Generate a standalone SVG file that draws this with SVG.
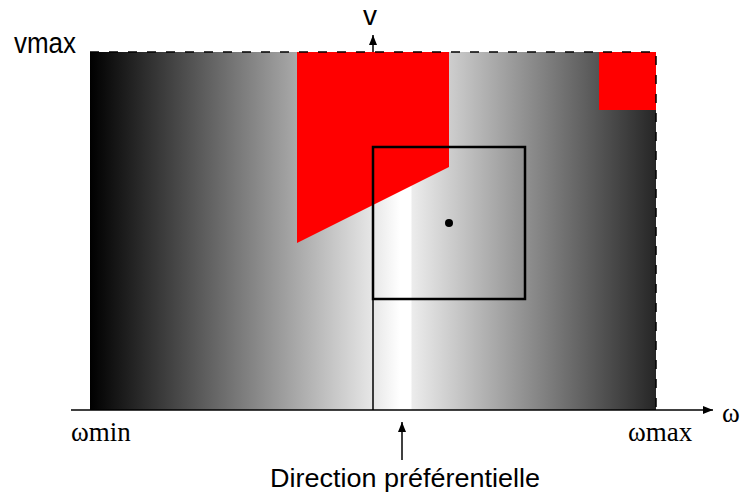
<svg xmlns="http://www.w3.org/2000/svg" width="744" height="493" viewBox="0 0 744 493">
  <style>
    .sans { font-family: "Liberation Sans", Arial, sans-serif; fill: #000; }
    .serif { font-family: "Liberation Serif", "Times New Roman", serif; fill: #000; }
    .axis { stroke: #000; stroke-width: 1.5; fill: none; }
    .dash { stroke: #000; stroke-width: 1.5; fill: none; stroke-dasharray: 9 10; }
    .red { fill: #ff0000; }
  </style>
  <defs>
    <linearGradient id="grad" gradientUnits="userSpaceOnUse" x1="90" y1="0" x2="656" y2="0">
      <stop offset="0" stop-color="#000000"/>
      <stop offset="0.498" stop-color="#e6e6e6"/>
      <stop offset="0.548" stop-color="#ffffff"/>
      <stop offset="0.567" stop-color="#ffffff"/>
      <stop offset="0.569" stop-color="#ececec"/>
      <stop offset="1" stop-color="#262626"/>
    </linearGradient>
    <marker id="arrow" viewBox="0 0 10 10" refX="10" refY="5" markerWidth="10" markerHeight="10" markerUnits="userSpaceOnUse" orient="auto">
      <path d="M0,1 L10,5 L0,9 Z" fill="#000"/>
    </marker>
  </defs>

  <g id="field">
    <rect x="90" y="52" width="566" height="358" fill="url(#grad)"/>
  </g>

  <g id="obstacle1">
    <polygon class="red" points="297,52 449,52 449,167 297,243"/>
  </g>
  <g id="obstacle2">
    <rect class="red" x="599" y="52" width="57" height="58"/>
  </g>

  <g id="border">
    <path class="dash" d="M90,52 H656 V410"/>
  </g>

  <g id="connectors">
    <line class="axis" x1="71" y1="410" x2="713" y2="410" marker-end="url(#arrow)"/>
    <line class="axis" x1="373" y1="52" x2="373" y2="35" marker-end="url(#arrow)"/>
    <line class="axis" x1="373" y1="299" x2="373" y2="410" stroke-width="1.2"/>
    <line class="axis" x1="402" y1="460" x2="402" y2="422" marker-end="url(#arrow)"/>
  </g>

  <g id="window">
    <rect x="373" y="147" width="152" height="152" fill="none" stroke="#000" stroke-width="2.5"/>
    <circle cx="449" cy="223" r="4" fill="#000"/>
  </g>

  <g id="labels">
    <text class="sans" x="14" y="53" font-size="30" textLength="62" lengthAdjust="spacingAndGlyphs">vmax</text>
    <text class="sans" x="370" y="25" font-size="28" text-anchor="middle">v</text>
    <text class="serif" x="71" y="441" font-size="27">ωmin</text>
    <text class="serif" x="628" y="441" font-size="27">ωmax</text>
    <text class="serif" x="722" y="422" font-size="27">ω</text>
    <text class="sans" x="270" y="487" font-size="26" textLength="270" lengthAdjust="spacingAndGlyphs">Direction préférentielle</text>
  </g>
</svg>
